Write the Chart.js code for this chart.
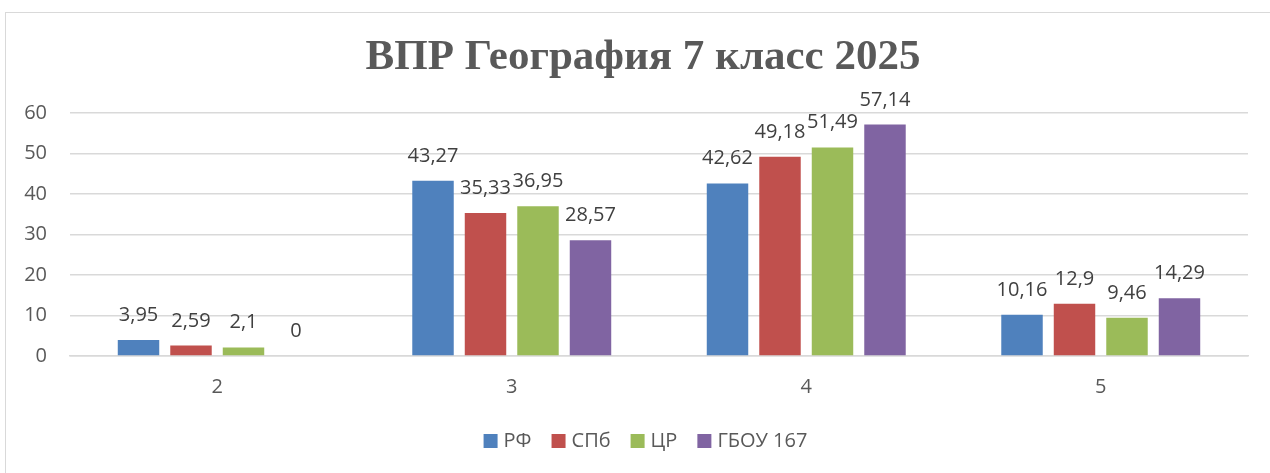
<!DOCTYPE html>
<html lang="ru">
<head>
<meta charset="utf-8">
<title>ВПР География 7 класс 2025</title>
<script src="https://cdn.jsdelivr.net/npm/chart.js@4"></script>
<style>
  html, body { margin: 0; padding: 0; background: #fff; overflow: hidden; }
  #wrap { position: relative; width: 1270px; height: 473px; }
  #frame { position: absolute; left: 5px; top: 12px; width: 1300px; height: 500px; border: 1px solid #d9d9d9; box-sizing: border-box; }
  #grafico { position: absolute; left: 0; top: 0; }
</style>
</head>
<body>
<div id="wrap">
  <div id="frame"></div>
  <canvas id="grafico" width="1270" height="473"></canvas>
</div>
<script>
const titulo = 'ВПР География 7 класс 2025';
const categorias = ['2', '3', '4', '5'];
const series = ['РФ', 'СПб', 'ЦР', 'ГБОУ 167'];
const valoresRF = [3.95, 43.27, 42.62, 10.16];
const valoresSPb = [2.59, 35.33, 49.18, 12.9];
const valoresCR = [2.1, 36.95, 51.49, 9.46];
const valoresGBOU = [0, 28.57, 57.14, 14.29];
const colores = ['#4F81BD', '#C0504D', '#9BBB59', '#8064A2'];
const ticksY = [0, 10, 20, 30, 40, 50, 60];

const fuente = "'Open Sans', 'Noto Sans', sans-serif";

// titulo centrado sobre todo el marco (no solo sobre el area del grafico)
const tituloPlugin = {
  id: 'tituloPlugin',
  afterDraw(chart) {
    const ctx = chart.ctx;
    ctx.save();
    ctx.font = "bold 43px 'Liberation Serif', 'Times New Roman', serif";
    ctx.fillStyle = '#595959';
    ctx.textAlign = 'center';
    ctx.textBaseline = 'middle';
    ctx.fillText(titulo, 643, 58);
    ctx.restore();
  }
};

// leyenda abajo, centrada sobre el marco
const leyenda = {
  id: 'leyenda',
  afterDraw(chart) {
    const ctx = chart.ctx;
    ctx.save();
    ctx.font = '20px ' + fuente;
    ctx.textBaseline = 'middle';
    ctx.textAlign = 'left';
    const caja = 14, hueco = 6, sep = 20;
    const anchos = chart.data.datasets.map(ds => ctx.measureText(ds.label).width);
    const total = anchos.reduce((a, w) => a + caja + hueco + w, 0) + sep * (anchos.length - 1);
    let x = 645.5 - total / 2;
    const y = 441;
    chart.data.datasets.forEach((ds, i) => {
      ctx.fillStyle = ds.backgroundColor;
      ctx.fillRect(x, y - caja / 2, caja, caja);
      ctx.fillStyle = '#595959';
      ctx.fillText(ds.label, x + caja + hueco, y);
      x += caja + hueco + anchos[i] + sep;
    });
    ctx.restore();
  }
};

// etiquetas de datos encima de cada barra
const etiquetas = {
  id: 'etiquetas',
  afterDatasetsDraw(chart) {
    const ctx = chart.ctx;
    ctx.save();
    ctx.font = '20px ' + fuente;
    ctx.fillStyle = '#404040';
    ctx.textAlign = 'center';
    ctx.textBaseline = 'alphabetic';
    chart.data.datasets.forEach((ds, i) => {
      chart.getDatasetMeta(i).data.forEach((bar, j) => {
        const txt = String(ds.data[j]).replace('.', ',');
        ctx.fillText(txt, bar.x, bar.y - 19);
      });
    });
    ctx.restore();
  }
};

const datos = [valoresRF, valoresSPb, valoresCR, valoresGBOU];

new Chart(document.getElementById('grafico'), {
  type: 'bar',
  data: {
    labels: categorias,
    datasets: series.map((nombre, i) => ({
      label: nombre,
      data: datos[i],
      backgroundColor: colores[i],
      categoryPercentage: 0.713,
      barPercentage: 0.79
    }))
  },
  options: {
    responsive: false,
    animation: false,
    layout: { padding: { left: 0, right: 22, top: 113, bottom: 55 } },
    plugins: {
      title: { display: false },
      legend: { display: false },
      tooltip: { enabled: false }
    },
    scales: {
      x: {
        grid: { display: false },
        border: { color: '#d9d9d9', width: 1.5 },
        ticks: { color: '#595959', font: { family: fuente, size: 20 }, padding: 11 },
        afterFit(scale) { scale.height = 62; }
      },
      y: {
        min: 0,
        max: 60,
        afterBuildTicks(scale) { scale.ticks = ticksY.map(v => ({ value: v })); },
        grid: { color: '#d9d9d9', lineWidth: 1.5, drawTicks: false },
        border: { display: false },
        ticks: { color: '#595959', font: { family: fuente, size: 20 }, padding: 23 },
        afterFit(scale) { scale.width = 70; }
      }
    }
  },
  plugins: [etiquetas, tituloPlugin, leyenda]
});
</script>
</body>
</html>
